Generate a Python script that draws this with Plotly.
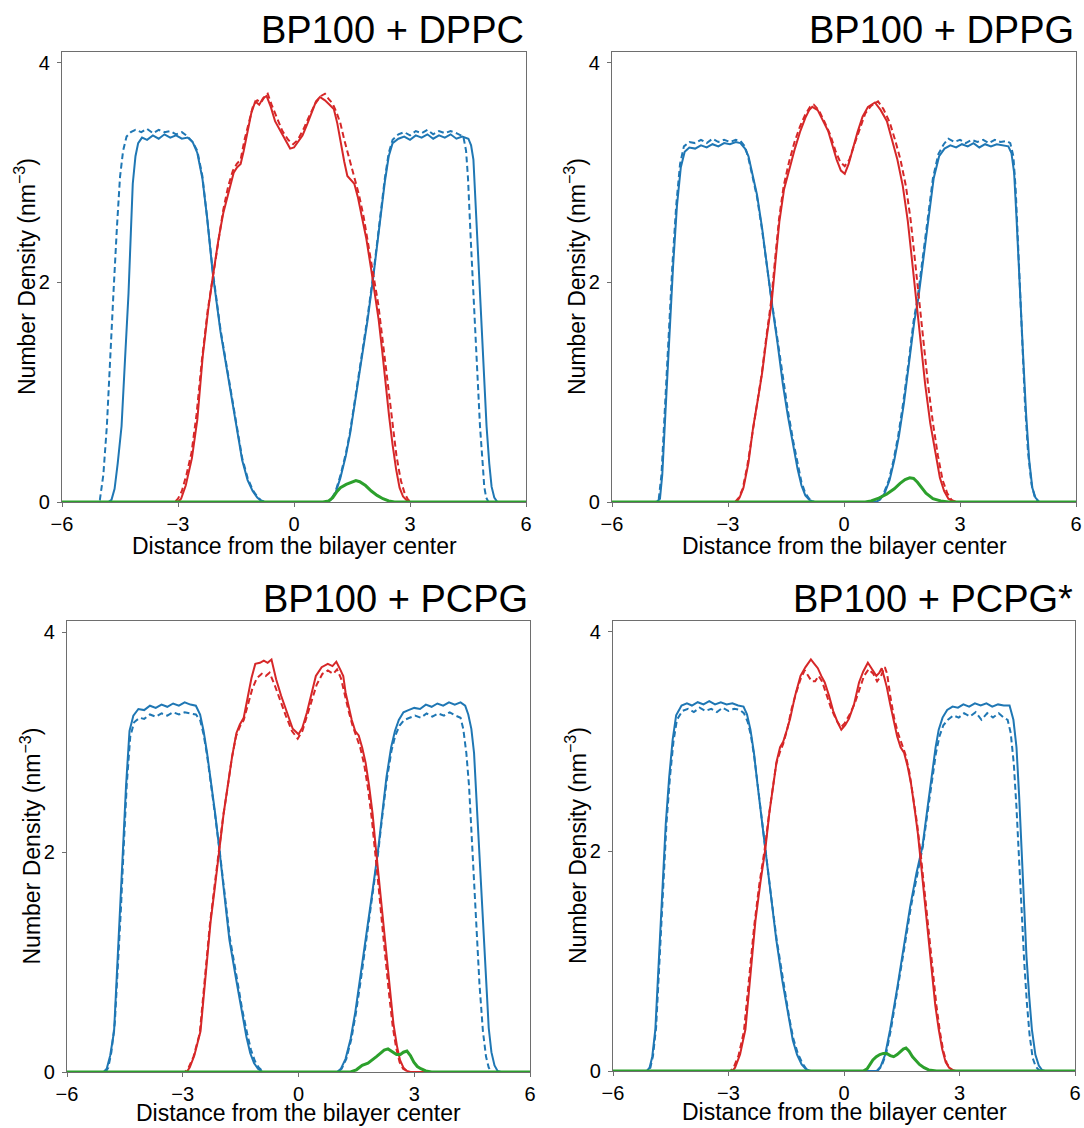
import plotly.graph_objects as go
from plotly.subplots import make_subplots

# number density profiles: (distance from bilayer center, density)
panel_titles = ["BP100 + DPPC", "BP100 + DPPG", "BP100 + PCPG", "BP100 + PCPG*"]
x_ticks = [-6, -3, 0, 3, 6]
y_ticks = [0, 2, 4]

dppc_blue_solid = [(-6, 0), (-4.80, 0), (-4.72, 0.02), (-4.64, 0.12), (-4.56, 0.35), (-4.46, 0.69), (-4.37, 1.3), (-4.28, 1.9),
                   (-4.22, 2.45), (-4.17, 2.9), (-4.10, 3.15), (-4.03, 3.27), (-3.93, 3.32), (-3.8, 3.30), (-3.65, 3.34), (-3.5, 3.31),
                   (-3.35, 3.35), (-3.2, 3.32), (-3.05, 3.34), (-2.9, 3.31), (-2.75, 3.32), (-2.62, 3.28), (-2.5, 3.18), (-2.37, 2.95),
                   (-2.25, 2.6), (-2.1, 2.08), (-1.9, 1.55), (-1.63, 1.0), (-1.45, 0.62), (-1.34, 0.38), (-1.2, 0.2), (-1.07, 0.1),
                   (-0.95, 0.04), (-0.85, 0.01), (-0.75, 0), (0.85, 0), (0.95, 0.02), (1.07, 0.08), (1.2, 0.22), (1.34, 0.42),
                   (1.45, 0.62), (1.63, 1.02), (1.9, 1.65), (2.05, 2.05), (2.2, 2.5), (2.35, 2.92), (2.45, 3.15), (2.55, 3.27),
                   (2.7, 3.31), (2.85, 3.33), (3.0, 3.30), (3.15, 3.34), (3.3, 3.32), (3.45, 3.35), (3.6, 3.31), (3.75, 3.34),
                   (3.9, 3.32), (4.05, 3.35), (4.2, 3.31), (4.35, 3.33), (4.51, 3.31), (4.58, 3.25), (4.64, 3.12), (4.70, 2.7),
                   (4.81, 1.9), (4.90, 1.25), (4.98, 0.69), (5.05, 0.35), (5.11, 0.14), (5.18, 0.04), (5.26, 0), (6, 0)]
dppc_blue_dash = [(-6, 0), (-5.1, 0), (-5.02, 0.02), (-4.93, 0.25), (-4.84, 0.69), (-4.76, 1.3), (-4.67, 1.9), (-4.58, 2.5),
                  (-4.50, 2.96), (-4.42, 3.2), (-4.33, 3.33), (-4.22, 3.37), (-4.1, 3.39), (-3.95, 3.37), (-3.8, 3.40), (-3.65, 3.36),
                  (-3.5, 3.39), (-3.35, 3.37), (-3.2, 3.38), (-3.05, 3.35), (-2.9, 3.37), (-2.75, 3.33), (-2.62, 3.28), (-2.5, 3.2),
                  (-2.37, 2.97), (-2.25, 2.6), (-2.1, 2.1), (-1.9, 1.57), (-1.63, 1.02), (-1.45, 0.64), (-1.34, 0.4), (-1.2, 0.22),
                  (-1.07, 0.11), (-0.95, 0.05), (-0.85, 0.015), (-0.75, 0), (0.85, 0), (0.95, 0.02), (1.07, 0.09), (1.2, 0.24),
                  (1.34, 0.44), (1.45, 0.64), (1.63, 1.05), (1.9, 1.68), (2.05, 2.07), (2.2, 2.52), (2.35, 2.95), (2.45, 3.18),
                  (2.55, 3.3), (2.7, 3.35), (2.85, 3.37), (3.0, 3.34), (3.15, 3.38), (3.3, 3.36), (3.45, 3.39), (3.6, 3.35),
                  (3.75, 3.38), (3.9, 3.36), (4.05, 3.38), (4.2, 3.36), (4.38, 3.33), (4.45, 3.2), (4.5, 2.95), (4.57, 2.4),
                  (4.64, 1.9), (4.72, 1.3), (4.81, 0.69), (4.88, 0.35), (4.92, 0.14), (4.97, 0.04), (5.03, 0), (6, 0)]
dppc_red_solid = [(-6, 0), (-3.0, 0), (-2.92, 0.03), (-2.8, 0.15), (-2.64, 0.4), (-2.5, 0.75), (-2.36, 1.33), (-2.22, 1.75),
                  (-2.1, 2.05), (-1.95, 2.4), (-1.83, 2.63), (-1.68, 2.85), (-1.56, 3.0), (-1.47, 3.05), (-1.38, 3.08), (-1.3, 3.2),
                  (-1.2, 3.38), (-1.1, 3.55), (-1.0, 3.65), (-0.9, 3.62), (-0.8, 3.68), (-0.71, 3.70), (-0.6, 3.6), (-0.49, 3.47),
                  (-0.35, 3.38), (-0.22, 3.3), (-0.1, 3.22), (0.0, 3.23), (0.1, 3.28), (0.22, 3.34), (0.35, 3.45), (0.45, 3.54),
                  (0.57, 3.65), (0.67, 3.69), (0.8, 3.66), (0.92, 3.62), (1.03, 3.58), (1.12, 3.45), (1.2, 3.28), (1.3, 3.1),
                  (1.38, 2.97), (1.47, 2.93), (1.56, 2.9), (1.65, 2.78), (1.74, 2.63), (1.87, 2.4), (2.0, 2.11), (2.1, 1.88),
                  (2.19, 1.66), (2.28, 1.38), (2.37, 1.07), (2.46, 0.78), (2.55, 0.52), (2.64, 0.3), (2.73, 0.13), (2.82, 0.05),
                  (2.9, 0.02), (3.0, 0), (6, 0)]
dppc_red_dash = [(-6, 0), (-3.08, 0), (-3.0, 0.03), (-2.9, 0.1), (-2.78, 0.25), (-2.65, 0.45), (-2.52, 0.8), (-2.38, 1.3),
                 (-2.23, 1.75), (-2.1, 2.05), (-1.95, 2.42), (-1.83, 2.66), (-1.7, 2.88), (-1.58, 3.02), (-1.48, 3.08), (-1.38, 3.12),
                 (-1.28, 3.3), (-1.18, 3.45), (-1.05, 3.62), (-0.95, 3.66), (-0.85, 3.64), (-0.75, 3.70), (-0.68, 3.72), (-0.58, 3.62),
                 (-0.45, 3.5), (-0.3, 3.38), (-0.15, 3.3), (-0.02, 3.26), (0.1, 3.3), (0.25, 3.4), (0.4, 3.52), (0.55, 3.63),
                 (0.7, 3.7), (0.8, 3.72), (0.9, 3.67), (1.0, 3.63), (1.1, 3.55), (1.2, 3.45), (1.3, 3.3), (1.42, 3.15),
                 (1.55, 2.98), (1.68, 2.8), (1.8, 2.6), (1.92, 2.35), (2.05, 2.08), (2.18, 1.8), (2.3, 1.45), (2.42, 1.1),
                 (2.54, 0.72), (2.65, 0.42), (2.76, 0.2), (2.86, 0.08), (2.95, 0.02), (3.05, 0), (6, 0)]
dppc_green = [(-6, 0), (0.75, 0), (0.9, 0.01), (1.0, 0.04), (1.1, 0.09), (1.2, 0.13), (1.35, 0.16), (1.5, 0.185), (1.6, 0.195),
              (1.7, 0.185), (1.85, 0.15), (2.0, 0.1), (2.15, 0.06), (2.3, 0.03), (2.45, 0.01), (2.6, 0), (6, 0)]

dppg_blue_solid = [(-6, 0), (-4.85, 0), (-4.76, 0.03), (-4.7, 0.25), (-4.62, 0.8), (-4.52, 1.5), (-4.42, 2.15), (-4.32, 2.7),
                   (-4.22, 3.05), (-4.12, 3.19), (-4.0, 3.23), (-3.85, 3.22), (-3.7, 3.25), (-3.55, 3.23), (-3.4, 3.26), (-3.25, 3.24),
                   (-3.1, 3.27), (-2.95, 3.26), (-2.8, 3.28), (-2.68, 3.27), (-2.56, 3.22), (-2.47, 3.15), (-2.38, 3.0), (-2.25, 2.8),
                   (-2.12, 2.5), (-2.0, 2.15), (-1.87, 1.82), (-1.72, 1.45), (-1.58, 1.07), (-1.45, 0.78), (-1.31, 0.5), (-1.2, 0.3),
                   (-1.1, 0.15), (-1.0, 0.06), (-0.9, 0.02), (-0.78, 0), (0.82, 0), (0.93, 0.02), (1.05, 0.08), (1.18, 0.2),
                   (1.3, 0.38), (1.42, 0.6), (1.55, 0.9), (1.7, 1.3), (1.82, 1.65), (1.92, 1.85), (2.05, 2.2), (2.19, 2.6),
                   (2.32, 2.95), (2.46, 3.15), (2.6, 3.22), (2.75, 3.25), (2.9, 3.23), (3.05, 3.26), (3.2, 3.24), (3.35, 3.27),
                   (3.5, 3.23), (3.65, 3.26), (3.8, 3.24), (3.95, 3.26), (4.1, 3.25), (4.25, 3.24), (4.33, 3.18), (4.4, 3.0),
                   (4.46, 2.6), (4.55, 2.0), (4.63, 1.35), (4.71, 0.8), (4.79, 0.38), (4.87, 0.13), (4.95, 0.04), (5.05, 0), (6, 0)]
dppg_blue_dash = [(-6, 0), (-4.88, 0), (-4.79, 0.03), (-4.72, 0.25), (-4.64, 0.8), (-4.54, 1.5), (-4.44, 2.15), (-4.34, 2.7),
                  (-4.24, 3.08), (-4.14, 3.24), (-4.0, 3.28), (-3.85, 3.27), (-3.7, 3.30), (-3.55, 3.27), (-3.4, 3.31), (-3.25, 3.28),
                  (-3.1, 3.30), (-2.95, 3.28), (-2.8, 3.30), (-2.68, 3.29), (-2.56, 3.24), (-2.47, 3.13), (-2.38, 2.98), (-2.25, 2.78),
                  (-2.12, 2.48), (-2.0, 2.15), (-1.87, 1.83), (-1.72, 1.48), (-1.58, 1.12), (-1.45, 0.83), (-1.31, 0.55), (-1.2, 0.34),
                  (-1.1, 0.18), (-1.0, 0.08), (-0.9, 0.03), (-0.76, 0), (0.8, 0), (0.91, 0.02), (1.03, 0.08), (1.16, 0.2),
                  (1.28, 0.38), (1.4, 0.6), (1.53, 0.9), (1.68, 1.3), (1.8, 1.65), (1.9, 1.85), (2.03, 2.2), (2.17, 2.6),
                  (2.3, 2.95), (2.44, 3.17), (2.58, 3.26), (2.7, 3.31), (2.85, 3.28), (3.0, 3.30), (3.15, 3.27), (3.3, 3.30),
                  (3.45, 3.28), (3.6, 3.30), (3.75, 3.27), (3.9, 3.30), (4.05, 3.28), (4.2, 3.29), (4.3, 3.27), (4.38, 3.15),
                  (4.44, 2.85), (4.52, 2.2), (4.6, 1.5), (4.68, 0.9), (4.76, 0.45), (4.85, 0.16), (4.93, 0.05), (5.03, 0), (6, 0)]
dppg_red_solid = [(-6, 0), (-2.78, 0), (-2.7, 0.04), (-2.6, 0.13), (-2.47, 0.36), (-2.35, 0.68), (-2.22, 0.95), (-2.12, 1.17),
                  (-2.0, 1.5), (-1.87, 1.82), (-1.77, 2.2), (-1.67, 2.56), (-1.55, 2.85), (-1.4, 3.05), (-1.27, 3.22), (-1.13, 3.38),
                  (-1.0, 3.5), (-0.9, 3.57), (-0.82, 3.6), (-0.68, 3.57), (-0.55, 3.48), (-0.41, 3.38), (-0.3, 3.25), (-0.19, 3.12),
                  (-0.08, 3.02), (0.02, 2.99), (0.12, 3.08), (0.22, 3.21), (0.35, 3.37), (0.48, 3.51), (0.62, 3.6), (0.8, 3.64),
                  (0.95, 3.57), (1.11, 3.47), (1.25, 3.3), (1.38, 3.12), (1.52, 2.88), (1.65, 2.56), (1.76, 2.2), (1.87, 1.82),
                  (1.98, 1.45), (2.1, 1.07), (2.23, 0.72), (2.37, 0.42), (2.48, 0.22), (2.59, 0.1), (2.7, 0.03), (2.8, 0.01),
                  (2.9, 0), (6, 0)]
dppg_red_dash = [(-6, 0), (-2.82, 0), (-2.72, 0.04), (-2.62, 0.12), (-2.5, 0.33), (-2.37, 0.62), (-2.24, 0.92), (-2.13, 1.16),
                 (-2.01, 1.5), (-1.88, 1.84), (-1.78, 2.22), (-1.68, 2.58), (-1.56, 2.88), (-1.42, 3.1), (-1.28, 3.28), (-1.14, 3.42),
                 (-1.0, 3.53), (-0.88, 3.6), (-0.78, 3.62), (-0.65, 3.57), (-0.5, 3.46), (-0.36, 3.35), (-0.22, 3.2), (-0.1, 3.1),
                 (0.02, 3.06), (0.14, 3.12), (0.26, 3.25), (0.4, 3.4), (0.55, 3.54), (0.7, 3.61), (0.88, 3.65), (1.02, 3.58),
                 (1.18, 3.46), (1.32, 3.3), (1.46, 3.12), (1.6, 2.88), (1.72, 2.58), (1.83, 2.22), (1.94, 1.84), (2.05, 1.46),
                 (2.17, 1.08), (2.3, 0.72), (2.43, 0.42), (2.55, 0.2), (2.67, 0.08), (2.78, 0.02), (2.9, 0), (6, 0)]
dppg_green = [(-6, 0), (0.55, 0), (0.7, 0.01), (0.9, 0.035), (1.1, 0.07), (1.3, 0.12), (1.45, 0.17), (1.58, 0.205), (1.7, 0.22),
              (1.8, 0.215), (1.9, 0.18), (2.0, 0.13), (2.12, 0.08), (2.3, 0.03), (2.5, 0.01), (2.7, 0), (6, 0)]

pcpg_blue_solid = [(-6, 0), (-5.05, 0), (-4.97, 0.03), (-4.88, 0.15), (-4.78, 0.37), (-4.7, 0.9), (-4.62, 1.45), (-4.55, 2.02),
                   (-4.47, 2.6), (-4.38, 3.1), (-4.28, 3.24), (-4.15, 3.3), (-4.0, 3.29), (-3.85, 3.33), (-3.7, 3.31), (-3.55, 3.34),
                   (-3.4, 3.32), (-3.25, 3.35), (-3.1, 3.33), (-2.95, 3.36), (-2.8, 3.34), (-2.66, 3.33), (-2.55, 3.25), (-2.46, 3.1),
                   (-2.37, 2.9), (-2.28, 2.68), (-2.16, 2.35), (-2.05, 2.02), (-1.92, 1.6), (-1.79, 1.2), (-1.62, 0.85), (-1.47, 0.54),
                   (-1.35, 0.32), (-1.25, 0.17), (-1.15, 0.08), (-1.05, 0.03), (-0.93, 0), (1.0, 0), (1.1, 0.03), (1.22, 0.12),
                   (1.35, 0.3), (1.47, 0.54), (1.6, 0.85), (1.74, 1.2), (1.9, 1.6), (2.05, 1.98), (2.17, 2.35), (2.28, 2.68),
                   (2.4, 2.95), (2.5, 3.1), (2.6, 3.2), (2.72, 3.27), (2.85, 3.29), (3.0, 3.31), (3.15, 3.30), (3.3, 3.34),
                   (3.45, 3.32), (3.6, 3.35), (3.75, 3.33), (3.9, 3.36), (4.05, 3.34), (4.2, 3.36), (4.32, 3.33), (4.4, 3.25),
                   (4.48, 3.12), (4.55, 2.9), (4.64, 2.3), (4.73, 1.69), (4.8, 1.2), (4.86, 0.75), (4.93, 0.4), (5.0, 0.18),
                   (5.08, 0.06), (5.16, 0.01), (5.25, 0), (6, 0)]
pcpg_blue_dash = [(-6, 0), (-5.0, 0), (-4.93, 0.04), (-4.85, 0.18), (-4.76, 0.45), (-4.68, 0.95), (-4.6, 1.5), (-4.53, 2.05),
                  (-4.45, 2.62), (-4.36, 3.05), (-4.26, 3.18), (-4.12, 3.22), (-4.0, 3.21), (-3.85, 3.25), (-3.7, 3.23), (-3.55, 3.26),
                  (-3.4, 3.24), (-3.25, 3.27), (-3.1, 3.25), (-2.95, 3.27), (-2.8, 3.26), (-2.66, 3.25), (-2.55, 3.2), (-2.46, 3.07),
                  (-2.37, 2.88), (-2.28, 2.66), (-2.16, 2.33), (-2.04, 2.0), (-1.91, 1.6), (-1.78, 1.22), (-1.61, 0.88), (-1.46, 0.57),
                  (-1.33, 0.35), (-1.23, 0.2), (-1.13, 0.1), (-1.03, 0.04), (-0.9, 0), (1.02, 0), (1.12, 0.03), (1.24, 0.12),
                  (1.37, 0.3), (1.49, 0.54), (1.62, 0.85), (1.76, 1.2), (1.92, 1.6), (2.06, 1.98), (2.18, 2.35), (2.29, 2.66),
                  (2.41, 2.92), (2.51, 3.06), (2.62, 3.15), (2.74, 3.2), (2.88, 3.22), (3.02, 3.24), (3.17, 3.22), (3.32, 3.26),
                  (3.47, 3.23), (3.62, 3.26), (3.77, 3.24), (3.92, 3.27), (4.07, 3.24), (4.2, 3.22), (4.27, 3.12), (4.35, 2.9),
                  (4.42, 2.6), (4.51, 2.0), (4.6, 1.36), (4.69, 0.8), (4.78, 0.37), (4.86, 0.14), (4.93, 0.04), (5.0, 0), (6, 0)]
pcpg_red_solid = [(-6, 0), (-2.9, 0), (-2.82, 0.04), (-2.7, 0.15), (-2.54, 0.37), (-2.42, 0.85), (-2.28, 1.36), (-2.16, 1.7),
                  (-2.05, 2.05), (-1.94, 2.35), (-1.83, 2.61), (-1.72, 2.87), (-1.61, 3.08), (-1.52, 3.16), (-1.42, 3.22), (-1.32, 3.4),
                  (-1.22, 3.58), (-1.12, 3.71), (-1.0, 3.72), (-0.9, 3.74), (-0.8, 3.72), (-0.7, 3.75), (-0.58, 3.57), (-0.45, 3.42),
                  (-0.31, 3.27), (-0.15, 3.12), (0.0, 3.07), (0.1, 3.13), (0.22, 3.27), (0.33, 3.42), (0.45, 3.6), (0.6, 3.68),
                  (0.76, 3.71), (0.88, 3.69), (0.98, 3.73), (1.08, 3.66), (1.16, 3.6), (1.22, 3.45), (1.29, 3.33), (1.38, 3.2),
                  (1.47, 3.1), (1.56, 3.06), (1.65, 2.95), (1.74, 2.81), (1.83, 2.6), (1.92, 2.35), (2.0, 2.05), (2.1, 1.69),
                  (2.19, 1.36), (2.28, 1.03), (2.37, 0.72), (2.46, 0.44), (2.55, 0.24), (2.63, 0.11), (2.72, 0.04), (2.81, 0.01),
                  (2.9, 0), (6, 0)]
pcpg_red_dash = [(-6, 0), (-2.94, 0), (-2.85, 0.04), (-2.72, 0.14), (-2.56, 0.35), (-2.44, 0.8), (-2.3, 1.33), (-2.18, 1.68),
                 (-2.06, 2.02), (-1.95, 2.33), (-1.84, 2.58), (-1.73, 2.85), (-1.62, 3.05), (-1.52, 3.14), (-1.42, 3.2), (-1.32, 3.34),
                 (-1.2, 3.48), (-1.08, 3.58), (-0.95, 3.62), (-0.85, 3.6), (-0.75, 3.63), (-0.62, 3.52), (-0.48, 3.38), (-0.33, 3.24),
                 (-0.17, 3.1), (-0.02, 3.03), (0.1, 3.1), (0.22, 3.23), (0.34, 3.38), (0.47, 3.52), (0.62, 3.62), (0.76, 3.65),
                 (0.9, 3.62), (1.0, 3.66), (1.1, 3.58), (1.2, 3.42), (1.3, 3.28), (1.4, 3.15), (1.5, 3.05), (1.6, 2.95),
                 (1.7, 2.8), (1.8, 2.58), (1.9, 2.3), (1.99, 2.0), (2.08, 1.67), (2.17, 1.33), (2.26, 1.0), (2.35, 0.7),
                 (2.44, 0.42), (2.53, 0.22), (2.62, 0.09), (2.71, 0.03), (2.8, 0.01), (2.88, 0), (6, 0)]
pcpg_green = [(-6, 0), (1.35, 0), (1.5, 0.02), (1.65, 0.06), (1.8, 0.08), (1.92, 0.11), (2.02, 0.14), (2.12, 0.17), (2.22, 0.2),
              (2.32, 0.21), (2.42, 0.19), (2.54, 0.16), (2.64, 0.16), (2.72, 0.18), (2.81, 0.19), (2.9, 0.15), (2.99, 0.09),
              (3.08, 0.05), (3.17, 0.03), (3.3, 0.01), (3.45, 0), (6, 0)]

pcpg2_blue_solid = [(-6, 0), (-5.12, 0), (-5.05, 0.03), (-4.98, 0.13), (-4.9, 0.38), (-4.81, 1.0), (-4.72, 1.7), (-4.63, 2.25),
                    (-4.54, 2.68), (-4.45, 3.02), (-4.36, 3.24), (-4.22, 3.33), (-4.08, 3.35), (-3.95, 3.33), (-3.8, 3.36), (-3.65, 3.34),
                    (-3.5, 3.37), (-3.35, 3.34), (-3.2, 3.36), (-3.05, 3.34), (-2.9, 3.35), (-2.75, 3.33), (-2.61, 3.32), (-2.52, 3.25),
                    (-2.43, 3.11), (-2.34, 2.9), (-2.25, 2.62), (-2.15, 2.33), (-2.04, 2.03), (-1.9, 1.6), (-1.76, 1.2), (-1.6, 0.82),
                    (-1.44, 0.48), (-1.33, 0.28), (-1.22, 0.15), (-1.1, 0.06), (-1.0, 0.02), (-0.88, 0), (0.85, 0), (0.95, 0.04),
                    (1.07, 0.15), (1.2, 0.38), (1.38, 0.75), (1.56, 1.15), (1.72, 1.5), (1.88, 1.8), (2.04, 2.05), (2.17, 2.4),
                    (2.28, 2.7), (2.38, 2.95), (2.46, 3.11), (2.56, 3.22), (2.68, 3.29), (2.82, 3.32), (2.96, 3.31), (3.1, 3.34),
                    (3.25, 3.32), (3.4, 3.35), (3.55, 3.33), (3.7, 3.35), (3.85, 3.32), (4.0, 3.34), (4.15, 3.33), (4.3, 3.33),
                    (4.4, 3.2), (4.48, 2.95), (4.55, 2.5), (4.61, 2.03), (4.68, 1.5), (4.74, 1.04), (4.81, 0.68), (4.88, 0.38),
                    (4.97, 0.15), (5.06, 0.05), (5.14, 0.01), (5.22, 0), (6, 0)]
pcpg2_blue_dash = [(-6, 0), (-5.1, 0), (-5.03, 0.03), (-4.96, 0.14), (-4.88, 0.4), (-4.79, 1.02), (-4.7, 1.72), (-4.61, 2.26),
                   (-4.52, 2.68), (-4.43, 3.0), (-4.34, 3.2), (-4.2, 3.28), (-4.05, 3.3), (-3.9, 3.27), (-3.75, 3.31), (-3.6, 3.28),
                   (-3.45, 3.3), (-3.3, 3.27), (-3.15, 3.31), (-3.0, 3.28), (-2.85, 3.3), (-2.7, 3.29), (-2.6, 3.26), (-2.5, 3.18),
                   (-2.42, 3.06), (-2.33, 2.86), (-2.24, 2.6), (-2.14, 2.3), (-2.03, 2.0), (-1.89, 1.58), (-1.75, 1.2), (-1.59, 0.83),
                   (-1.43, 0.5), (-1.32, 0.3), (-1.2, 0.16), (-1.08, 0.07), (-0.98, 0.02), (-0.86, 0), (0.87, 0), (0.97, 0.04),
                   (1.09, 0.15), (1.22, 0.38), (1.4, 0.75), (1.58, 1.15), (1.74, 1.5), (1.9, 1.8), (2.05, 2.05), (2.18, 2.38),
                   (2.29, 2.67), (2.39, 2.9), (2.48, 3.05), (2.58, 3.15), (2.7, 3.2), (2.84, 3.24), (2.98, 3.22), (3.12, 3.26),
                   (3.27, 3.23), (3.42, 3.27), (3.57, 3.2), (3.72, 3.26), (3.87, 3.22), (4.02, 3.26), (4.15, 3.22), (4.25, 3.2),
                   (4.33, 3.08), (4.41, 2.8), (4.48, 2.4), (4.54, 1.95), (4.61, 1.45), (4.68, 1.0), (4.75, 0.62), (4.82, 0.33),
                   (4.9, 0.12), (4.98, 0.04), (5.06, 0.01), (5.12, 0), (6, 0)]
pcpg2_red_solid = [(-6, 0), (-2.9, 0), (-2.83, 0.03), (-2.7, 0.15), (-2.56, 0.38), (-2.44, 0.85), (-2.3, 1.37), (-2.17, 1.72),
                   (-2.04, 2.03), (-1.94, 2.35), (-1.84, 2.62), (-1.75, 2.82), (-1.66, 2.95), (-1.58, 3.0), (-1.49, 3.1), (-1.4, 3.21),
                   (-1.27, 3.42), (-1.13, 3.6), (-1.0, 3.68), (-0.93, 3.72), (-0.86, 3.75), (-0.77, 3.71), (-0.68, 3.67), (-0.59, 3.6),
                   (-0.5, 3.54), (-0.39, 3.42), (-0.28, 3.28), (-0.17, 3.18), (-0.07, 3.11), (0.03, 3.15), (0.13, 3.21), (0.26, 3.34),
                   (0.39, 3.54), (0.5, 3.64), (0.62, 3.72), (0.73, 3.66), (0.84, 3.6), (0.92, 3.63), (0.98, 3.67), (1.05, 3.58),
                   (1.11, 3.5), (1.2, 3.34), (1.29, 3.18), (1.38, 3.05), (1.47, 2.95), (1.56, 2.9), (1.65, 2.78), (1.74, 2.62),
                   (1.83, 2.4), (1.92, 2.16), (2.01, 1.85), (2.1, 1.53), (2.19, 1.2), (2.28, 0.87), (2.37, 0.6), (2.46, 0.38),
                   (2.55, 0.2), (2.64, 0.08), (2.73, 0.03), (2.82, 0.01), (2.9, 0), (6, 0)]
pcpg2_red_dash = [(-6, 0), (-2.95, 0), (-2.87, 0.03), (-2.74, 0.14), (-2.6, 0.36), (-2.47, 0.8), (-2.33, 1.33), (-2.2, 1.7),
                  (-2.06, 2.02), (-1.95, 2.33), (-1.85, 2.6), (-1.76, 2.8), (-1.67, 2.9), (-1.58, 2.98), (-1.47, 3.12), (-1.36, 3.3),
                  (-1.24, 3.45), (-1.12, 3.58), (-1.02, 3.65), (-0.93, 3.6), (-0.84, 3.55), (-0.75, 3.55), (-0.66, 3.6), (-0.57, 3.55),
                  (-0.45, 3.43), (-0.33, 3.3), (-0.2, 3.2), (-0.08, 3.13), (0.02, 3.17), (0.15, 3.25), (0.28, 3.35), (0.4, 3.48),
                  (0.52, 3.6), (0.64, 3.66), (0.76, 3.62), (0.86, 3.55), (0.96, 3.6), (1.06, 3.68), (1.12, 3.62), (1.2, 3.42),
                  (1.3, 3.22), (1.4, 3.08), (1.5, 2.98), (1.6, 2.88), (1.7, 2.72), (1.8, 2.5), (1.9, 2.25), (2.0, 1.95),
                  (2.1, 1.6), (2.2, 1.25), (2.3, 0.9), (2.4, 0.6), (2.49, 0.36), (2.58, 0.18), (2.67, 0.07), (2.76, 0.02),
                  (2.85, 0), (6, 0)]
pcpg2_green = [(-6, 0), (0.5, 0), (0.6, 0.02), (0.68, 0.06), (0.75, 0.1), (0.84, 0.13), (0.93, 0.15), (1.02, 0.16), (1.11, 0.16),
               (1.2, 0.14), (1.29, 0.13), (1.38, 0.15), (1.47, 0.18), (1.54, 0.2), (1.61, 0.21), (1.69, 0.18), (1.78, 0.13),
               (1.87, 0.09), (1.96, 0.06), (2.08, 0.03), (2.2, 0.01), (2.4, 0), (6, 0)]

panels = [
    (dppc_blue_solid, dppc_blue_dash, dppc_red_solid, dppc_red_dash, dppc_green),
    (dppg_blue_solid, dppg_blue_dash, dppg_red_solid, dppg_red_dash, dppg_green),
    (pcpg_blue_solid, pcpg_blue_dash, pcpg_red_solid, pcpg_red_dash, pcpg_green),
    (pcpg2_blue_solid, pcpg2_blue_dash, pcpg2_red_solid, pcpg2_red_dash, pcpg2_green),
]

BLUE, RED, GREEN = "#1f77b4", "#d62728", "#2ca02c"
DASH = "6px,3.5px"
W, H = 1084, 1128
FONT = "Liberation Sans, Arial, Helvetica, sans-serif"
# plot frames in page pixels: left, right, top, bottom
boxes = [(62, 526, 52, 502), (612, 1076, 52, 502), (67, 530, 621, 1072), (613, 1075, 621, 1071)]
# gap between frame bottom and the centre of the x-axis title, per panel
xtitle_gap = [44, 44, 41, 41]

fig = make_subplots(rows=2, cols=2)

styles = [(BLUE, "solid", 2), (BLUE, DASH, 2), (RED, "solid", 2), (RED, DASH, 2), (GREEN, "solid", 3)]
for i, curves in enumerate(panels):
    r, c = i // 2 + 1, i % 2 + 1
    for pts, (col, dash, w) in zip(curves, styles):
        xs = [p[0] for p in pts]
        ys = [p[1] for p in pts]
        fig.add_trace(go.Scatter(x=xs, y=ys, mode="lines", line=dict(color=col, width=w, dash=dash),
                                 hoverinfo="skip"), row=r, col=c)

annotations = []
for i, (x0, x1, y0, y1) in enumerate(boxes):
    sfx = "" if i == 0 else str(i + 1)
    axis_style = dict(showline=True, mirror=True, linecolor="#6e6e6e", linewidth=1.2, showgrid=False,
                      zeroline=False, ticks="outside", ticklen=4, tickwidth=1, tickcolor="#6e6e6e",
                      automargin=False, tickfont=dict(size=20, color="black", family=FONT))
    fig.layout["xaxis" + sfx].update(domain=[x0 / W, x1 / W], range=[-6, 6], tickvals=x_ticks, **axis_style)
    fig.layout["yaxis" + sfx].update(domain=[1 - y1 / H, 1 - y0 / H], range=[0, 4.1], tickvals=y_ticks,
                                     ticklabelstandoff=3, **axis_style)

    # panel title, right aligned to the frame
    annotations.append(dict(text=panel_titles[i], x=x1 / W, y=1 - y0 / H, xref="paper", yref="paper",
                            xanchor="right", yanchor="bottom", showarrow=False, yshift=-1,
                            font=dict(size=38, color="black", family=FONT)))
    annotations.append(dict(text="Distance from the bilayer center", x=(x0 + x1) / 2 / W,
                            y=1 - (y1 + xtitle_gap[i]) / H,
                            xref="paper", yref="paper", xanchor="center", yanchor="middle", showarrow=False,
                            font=dict(size=23, color="black", family=FONT)))
    annotations.append(dict(text="Number Density (nm<sup>\u22123</sup>)", x=(x0 - 37) / W, y=1 - (y0 + y1) / 2 / H,
                            xref="paper", yref="paper", xanchor="center", yanchor="middle", textangle=-90,
                            showarrow=False, font=dict(size=23, color="black", family=FONT)))

fig.update_layout(width=W, height=H, margin=dict(l=0, r=0, t=0, b=0, pad=0, autoexpand=False), showlegend=False,
                  plot_bgcolor="white", paper_bgcolor="white", annotations=annotations,
                  font=dict(family=FONT, color="black"))

# the page body has a default margin; drop it so the figure sits at the window corner
fig.write_html("out.html", config={"displayModeBar": False},
               post_script="document.body.style.margin='0';")
